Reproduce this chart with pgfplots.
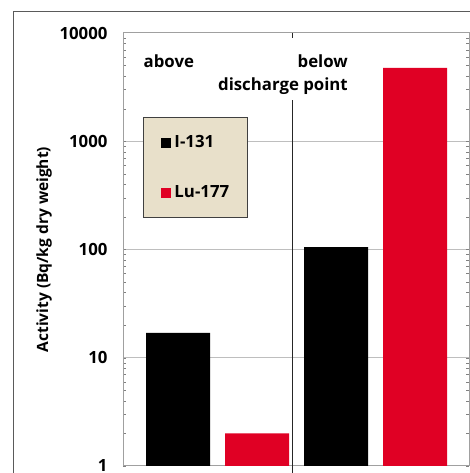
\documentclass[border=0pt]{standalone}
\usepackage{pgfplots}
\pgfplotsset{compat=1.18}
\usepackage{fontspec}
\setmainfont{Open Sans}
\definecolor{barred}{RGB}{224,0,36}
\definecolor{legbg}{RGB}{232,224,202}
\definecolor{legbd}{RGB}{64,64,64}
\definecolor{gridc}{RGB}{190,190,190}
\definecolor{axc}{RGB}{160,160,160}
\definecolor{outc}{RGB}{90,90,90}
\begin{document}
\begin{tikzpicture}
\useasboundingbox (0,0) rectangle (470pt,473pt);
\clip (0,0) rectangle (470pt,473pt);
\fill[white] (0,0) rectangle (470pt,473pt);
\draw[outc, line width=1pt] (13pt,-20pt) rectangle (520pt,461pt);
\begin{axis}[
  scale only axis, width=346pt, height=433pt,
  at={(123pt,7pt)}, anchor=south west,
  xmin=123, xmax=469,
  ymode=log, ymin=1, ymax=10000,
  ytick={1,10,100,1000,10000},
  yticklabels={1,10,100,1000,10000},
  xtick=\empty,
  major tick length=0pt,
  axis line style={axc, line width=1pt},
  ymajorgrids, grid style={gridc, line width=1pt},
  yminorgrids=false,
  minor ytick={},
  /pgf/number format/assume math mode=true,
  yticklabel style={font=\fontsize{16.8}{20}\selectfont\bfseries, xshift=-12pt},
  ylabel={Activity (Bq/kg dry weight)},
  ylabel style={font=\fontsize{15.5}{18}\selectfont\bfseries, at={(axis description cs:-0.2283,0.5)}, anchor=center},
  clip=false,
  legend style={at={(0.0578,0.806)}, anchor=north west, fill=legbg, draw=legbd, line width=1pt,
    font=\fontsize{16.8}{20}\selectfont\bfseries,
    inner xsep=17pt, inner ysep=0pt, row sep=0pt, column sep=3pt,
    nodes={minimum height=50pt, inner sep=1pt}},
  legend cell align=left,
  legend image code/.code={\fill[#1] (0pt,-5pt) rectangle (10pt,5pt);},
]
\addplot[ybar, bar width=64, bar shift=0pt, fill=black, draw=none] coordinates {(178,17) (336,105)};
\addplot[ybar, bar width=64, bar shift=0pt, fill=barred, draw=none] coordinates {(257,2) (415,4750)};
\legend{I-131, Lu-177}
\draw[black!85, line width=1pt] (axis cs:292,10000) -- (axis cs:292,8950);
\draw[black!85, line width=1pt] (axis cs:292,2396) -- (axis cs:292,0.8);
\node[font=\fontsize{16.8}{22}\selectfont\bfseries, anchor=base west, inner sep=0pt] at (axis cs:143.5,{10^((466-68)/108.25)}) {above};
\node[font=\fontsize{16.8}{22}\selectfont\bfseries, anchor=base east, inner sep=0pt] at (axis cs:348,{10^((466-68)/108.25)}) {below};
\node[font=\fontsize{16.8}{22}\selectfont\bfseries, anchor=base east, inner sep=0pt] at (axis cs:348,{10^((466-90)/108.25)}) {discharge point};
\end{axis}
\end{tikzpicture}
\end{document}
